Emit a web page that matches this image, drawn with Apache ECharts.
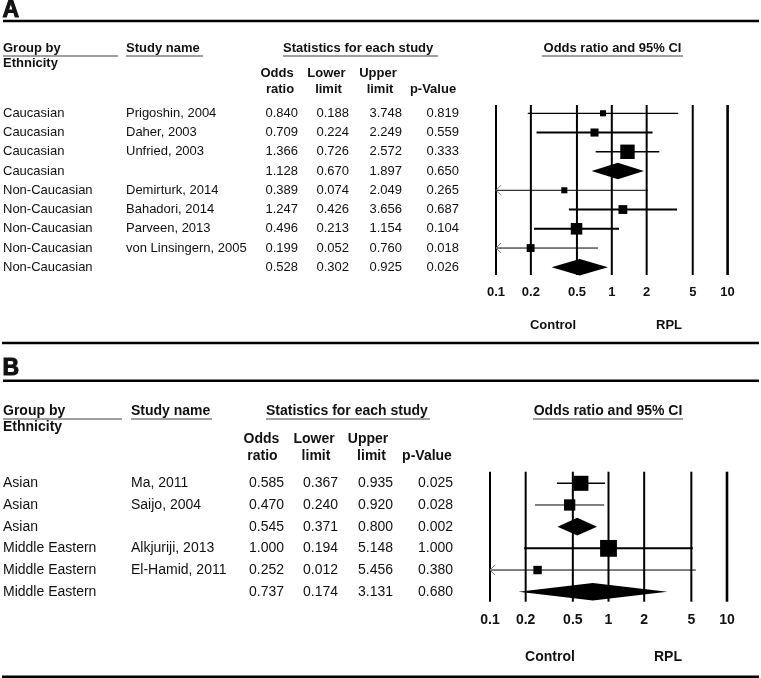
<!DOCTYPE html>
<html>
<head>
<meta charset="utf-8">
<script src="https://cdn.jsdelivr.net/npm/echarts@6/dist/echarts.min.js"></script>
<style>
  html, body { margin: 0; padding: 0; background: #fff; }
  #chart { width: 761px; height: 678px; }
</style>
</head>
<body>
<div id="chart"></div>
<script>
// x axis ticks (odds ratio, log scale)
var tickVals = [0.1, 0.2, 0.5, 1, 2, 5, 10]
var tickLabels = ['0.1', '0.2', '0.5', '1', '2', '5', '10']

// panel A: ethnicity subgroups
var groupA = ['Caucasian', 'Caucasian', 'Caucasian', 'Caucasian', 'Non-Caucasian', 'Non-Caucasian', 'Non-Caucasian', 'Non-Caucasian', 'Non-Caucasian']
var studyA = ['Prigoshin, 2004', 'Daher, 2003', 'Unfried, 2003', '', 'Demirturk, 2014', 'Bahadori, 2014', 'Parveen, 2013', 'von Linsingern, 2005', '']
var orA = [0.840, 0.709, 1.366, 1.128, 0.389, 1.247, 0.496, 0.199, 0.528]
var lowerA = [0.188, 0.224, 0.726, 0.670, 0.074, 0.426, 0.213, 0.052, 0.302]
var upperA = [3.748, 2.249, 2.572, 1.897, 2.049, 3.656, 1.154, 0.760, 0.925]
var pA = [0.819, 0.559, 0.333, 0.650, 0.265, 0.687, 0.104, 0.018, 0.026]
var weightA = [12, 21, 67, 0, 12, 25, 43, 20, 0] // relative weight in subgroup (%)

// panel B
var groupB = ['Asian', 'Asian', 'Asian', 'Middle Eastern', 'Middle Eastern', 'Middle Eastern']
var studyB = ['Ma, 2011', 'Saijo, 2004', '', 'Alkjuriji, 2013', 'El-Hamid, 2011', '']
var orB = [0.585, 0.470, 0.545, 1.000, 0.252, 0.737]
var lowerB = [0.367, 0.240, 0.371, 0.194, 0.012, 0.174]
var upperB = [0.935, 0.920, 0.800, 5.148, 5.456, 3.131]
var pB = [0.025, 0.028, 0.002, 1.000, 0.380, 0.680]
var weightB = [64, 36, 0, 80, 20, 0]

// styles
var lineWA = [1.3, 2, 1.5, 0, 1, 2, 2, 1, 0]
var lineWB = [1.5, 1, 0, 2, 1, 0]

var FONT = '"Liberation Sans", Arial, sans-serif'

var panels = [{
  group: groupA, study: studyA, or: orA, lo: lowerA, hi: upperA, p: pA, w: weightA, lw: lineWA,
  fs: 13, boxK: 1.76, dia: 8.2, yMin: -0.43, yMax: 8.4, tickGap: 17,
  cols: { group: 3, study: 126, or: 298, lo: 349, hi: 402, p: 459 }
}, {
  group: groupB, study: studyB, or: orB, lo: lowerB, hi: upperB, p: pB, w: weightB, lw: lineWB,
  fs: 14, boxK: 1.88, dia: 8.8, yMin: -0.535, yMax: 5.46, tickGap: 18.5,
  cols: { group: 3, study: 131, or: 284, lo: 338, hi: 393, p: 453 }
}]

function txt (s, x, y, font, align) {
  return {
    type: 'text',
    style: { text: s, x: x, y: y, font: font, fill: '#111', textAlign: align || 'left', textVerticalAlign: 'middle', align: align || 'left', verticalAlign: 'middle' }
  }
}

function tickSeries (gi, P) {
  return {
    type: 'custom',
    xAxisIndex: gi,
    yAxisIndex: gi,
    z: 2,
    silent: true,
    data: tickVals.map(function (v) { return [v, 0] }),
    encode: { x: 0, y: 1 },
    renderItem: function (params, api) {
      var v = api.value(0)
      var top = api.coord([v, P.yMin])
      var bot = api.coord([v, P.yMax])
      return {
        type: 'group',
        children: [{
          type: 'line',
          shape: { x1: top[0], y1: top[1], x2: bot[0], y2: bot[1] },
          style: { stroke: '#000', lineWidth: v === 10 ? 2.6 : 2 }
        }, txt(tickLabels[params.dataIndex], top[0], bot[1] + P.tickGap, 'bold ' + P.fs + 'px ' + FONT, 'center')]
      }
    }
  }
}

function rowSeries (gi, P) {
  return {
    type: 'custom',
    xAxisIndex: gi,
    yAxisIndex: gi,
    z: 3,
    silent: true,
    data: P.or.map(function (v, i) { return [v, P.lo[i], P.hi[i], i] }),
    encode: { x: [0, 1, 2], y: 3 },
    renderItem: function (params, api) {
      var i = params.dataIndex
      var or = api.value(0)
      var lo = api.value(1)
      var hi = api.value(2)
      var c = api.coord([or, i])
      var y = c[1]
      var xO = c[0]
      var xL = api.coord([Math.max(lo, 0.1), i])[0]
      var xH = api.coord([Math.min(hi, 10), i])[0]
      var font = P.fs + 'px ' + FONT
      var ch = [
        txt(P.group[i], P.cols.group, y, font),
        txt(P.study[i], P.cols.study, y, font),
        txt(or.toFixed(3), P.cols.or, y, font, 'right'),
        txt(lo.toFixed(3), P.cols.lo, y, font, 'right'),
        txt(hi.toFixed(3), P.cols.hi, y, font, 'right'),
        txt(P.p[i].toFixed(3), P.cols.p, y, font, 'right')
      ]
      if (P.study[i] === '') {
        // pooled subgroup estimate: diamond
        ch.push({
          type: 'polygon',
          shape: { points: [[xL, y], [xO, y - P.dia], [xH, y], [xO, y + P.dia]] },
          style: { fill: '#000' }
        })
      } else {
        ch.push({
          type: 'line',
          shape: { x1: xL, y1: y, x2: xH, y2: y },
          style: { stroke: '#000', lineWidth: P.lw[i] }
        })
        if (lo < 0.1) {
          // CI runs off the left edge
          ch.push({
            type: 'polyline',
            shape: { points: [[xL + 5, y - 5], [xL, y], [xL + 5, y + 5]] },
            style: { stroke: '#777', lineWidth: 1, fill: null }
          })
        }
        var s = P.boxK * Math.sqrt(P.w[i])
        ch.push({
          type: 'rect',
          shape: { x: xO - s / 2, y: y - s / 2, width: s, height: s },
          style: { fill: '#000' }
        })
      }
      return { type: 'group', children: ch }
    }
  }
}

function hline (x1, x2, y, w, color) {
  return { type: 'line', shape: { x1: x1, y1: y, x2: x2, y2: y }, style: { stroke: color || '#000', lineWidth: w } }
}

function gtxt (s, x, y, size, align, heavy) {
  return {
    type: 'text',
    style: {
      text: s, x: x, y: y, fill: '#111',
      stroke: heavy ? '#111' : null, lineWidth: heavy ? 1 : 0,
      font: 'bold ' + size + 'px ' + FONT,
      textAlign: align || 'left', textVerticalAlign: 'middle', align: align || 'left', verticalAlign: 'middle'
    }
  }
}

var GREY = '#808080'
var graphics = [
  // panel A
  gtxt('A', 2.5, 11, 23, 'left', true),
  hline(3, 759, 21, 2.5),
  gtxt('Group by', 3, 48, 13), gtxt('Ethnicity', 3, 63.5, 13),
  hline(3, 118, 56, 1.3, GREY),
  gtxt('Study name', 126, 48, 13), hline(126, 203, 56, 1.3, GREY),
  gtxt('Statistics for each study', 283, 48, 13), hline(283, 438, 56, 1.3, GREY),
  gtxt('Odds', 277, 73, 13, 'center'), gtxt('ratio', 280, 89, 13, 'center'),
  gtxt('Lower', 326.5, 73, 13, 'center'), gtxt('limit', 328.5, 89, 13, 'center'),
  gtxt('Upper', 378, 73, 13, 'center'), gtxt('limit', 380, 89, 13, 'center'),
  gtxt('p-Value', 433, 89, 13, 'center'),
  gtxt('Odds ratio and 95% CI', 612.5, 48, 13, 'center'), hline(542, 683, 56, 1.3, GREY),
  gtxt('Control', 553, 325, 13, 'center'), gtxt('RPL', 669, 325, 13, 'center'),
  hline(2, 759, 343, 2.5),
  // panel B
  gtxt('B', 2.5, 368.5, 23, 'left', true),
  hline(3, 759, 380.7, 2.5),
  gtxt('Group by', 3, 410.7, 14), gtxt('Ethnicity', 3, 427, 14),
  hline(3, 122, 419, 1.3, GREY),
  gtxt('Study name', 131, 410.7, 14), hline(131, 212, 419, 1.3, GREY),
  gtxt('Statistics for each study', 266, 410.7, 14), hline(266, 430, 419, 1.3, GREY),
  gtxt('Odds', 261.5, 439, 14, 'center'), gtxt('ratio', 262.5, 455.7, 14, 'center'),
  gtxt('Lower', 314, 439, 14, 'center'), gtxt('limit', 316, 455.7, 14, 'center'),
  gtxt('Upper', 368, 439, 14, 'center'), gtxt('limit', 371.5, 455.7, 14, 'center'),
  gtxt('p-Value', 427, 455.7, 14, 'center'),
  gtxt('Odds ratio and 95% CI', 608, 410.7, 14, 'center'), hline(533, 683, 419, 1.3, GREY),
  gtxt('Control', 550, 656.7, 14, 'center'), gtxt('RPL', 668, 656.7, 14, 'center'),
  hline(2, 759, 676.7, 2.5)
]

var myChart = echarts.init(document.getElementById('chart'), null, { renderer: 'canvas' })

var option = {
  animation: false,
  backgroundColor: '#fff',
  grid: [
    { left: 496, top: 105, width: 231.6, height: 170, containLabel: false },
    { left: 490, top: 471.7, width: 237, height: 130, containLabel: false }
  ],
  xAxis: [
    { gridIndex: 0, type: 'log', logBase: 10, min: 0.1, max: 10, show: false },
    { gridIndex: 1, type: 'log', logBase: 10, min: 0.1, max: 10, show: false }
  ],
  yAxis: [
    { gridIndex: 0, type: 'value', min: panels[0].yMin, max: panels[0].yMax, inverse: true, show: false },
    { gridIndex: 1, type: 'value', min: panels[1].yMin, max: panels[1].yMax, inverse: true, show: false }
  ],
  graphic: graphics,
  series: [
    tickSeries(0, panels[0]),
    rowSeries(0, panels[0]),
    tickSeries(1, panels[1]),
    rowSeries(1, panels[1])
  ]
}

myChart.setOption(option)
</script>
</body>
</html>
